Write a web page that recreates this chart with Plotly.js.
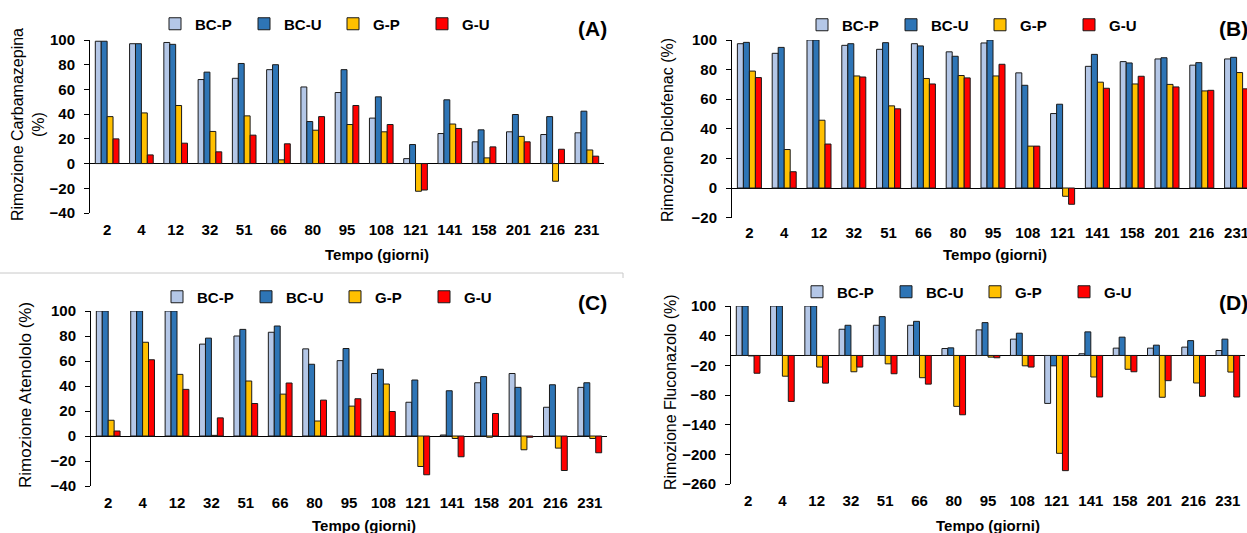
<!DOCTYPE html>
<html><head><meta charset="utf-8">
<script src="https://cdn.plot.ly/plotly-3.0.1.min.js"></script>
<style>html,body{margin:0;padding:0;overflow:hidden;background:#fff}#chart{width:1262px;height:533px}</style>
</head><body><div id="chart"></div>
<script>
// ---------- data ----------
const categories = ['2','4','12','32','51','66','80','95','108','121','141','158','201','216','231'];
const seriesNames = ['BC-P','BC-U','G-P','G-U'];
const seriesColors = ['#B4C7E7','#2E75B6','#FFC000','#FF0000'];

// (A) Carbamazepina
const carbBCP = [99, 97, 98, 68, 69, 76, 62, 57.5, 36.8, 4, 24.3, 17.6, 25.7, 23.5, 24.9];
const carbBCU = [99, 97, 96.5, 74, 81, 80, 34, 76, 54, 15.4, 51.6, 27.3, 39.7, 38, 42.4];
const carbGP  = [38, 41, 47, 26, 38.6, 3, 27, 31.6, 25.7, -22.4, 32, 4.6, 22, -14.3, 11];
const carbGU  = [20, 7, 16.5, 9.5, 23, 16, 38, 47, 31.6, -21.4, 28.4, 13.5, 17.6, 11.6, 6];

// (B) Diclofenac
const diclBCP = [97.5, 91, 100, 96.4, 93.7, 97.5, 92, 98, 77.8, 50.3, 82.2, 85.4, 87.2, 83, 87.2];
const diclBCU = [98.4, 95, 100, 97.5, 98.2, 96, 89, 100, 69.4, 56.6, 90.3, 84.5, 88, 84.7, 88.3];
const diclGP  = [79, 26, 45.8, 75.7, 55.5, 74, 76, 75.7, 28.3, -5.6, 71.5, 70.3, 70, 65.6, 78];
const diclGU  = [74.6, 11, 29.7, 75, 53.5, 70.3, 74.4, 83.6, 28.3, -11, 67.4, 75.5, 68.3, 66, 67];

// (C) Atenololo
const atenBCP = [100, 100, 100, 73.5, 80, 83, 69.7, 60.3, 50, 27, 0.8, 42.6, 50, 23, 38.9];
const atenBCU = [100, 100, 100, 78.3, 85.3, 88, 57.4, 70, 53.4, 44.8, 36.2, 47.5, 38.9, 41, 42.6];
const atenGP  = [12.6, 75, 49.3, 0.5, 44, 33.5, 12, 23.9, 41.6, -24.4, -2, -1, -11, -9.7, -2];
const atenGU  = [4, 61, 37.3, 14.5, 26, 42.4, 28.7, 29.8, 19.6, -31, -16.6, 18, -1, -27.6, -13.4];

// (D) Fluconazolo
const flucBCP = [100, 100, 100, 53, 61, 61, 14, 51.7, 33, -97, 3.4, 14.8, 14.8, 16.8, 10];
const flucBCU = [100, 100, 100, 61, 78.5, 69, 15.4, 66.4, 45, -21, 47.7, 37, 20.8, 30, 33];
const flucGP  = [-1, -42, -23.5, -33, -17, -45, -103, -3.4, -21, -198, -43.6, -28, -84.6, -55.7, -33.6];
const flucGU  = [-36, -93, -56, -23.5, -37, -58, -120, -4.7, -23.5, -233, -84, -33, -51, -82.6, -84];

const yTitles = ['Rimozione Carbamazepina<br>(%)', 'Rimozione Diclofenac (%)', 'Rimozione Atenololo (%)', 'Rimozione Fluconazolo (%)'];
const panelLabels = ['(A)', '(B)', '(C)', '(D)'];
const xTitle = 'Tempo (giorni)';

// ---------- layout helpers ----------
const W = 1262, H = 533;
const fx = p => p / W;
const fy = p => 1 - p / H;
const FONT = 'Arial, "Liberation Sans", sans-serif';

const panels = [
  {vals: [carbBCP, carbBCU, carbGP, carbGU], range: [-40, 100], tick0: -40, dtick: 20,
   xd: [90, 604], yd: [40, 213], legX: 155, legY: 24, ytx: 28, yty: 125, ytSize: 16, labX: 592, labY: 28, xtX: 377, xtY: 254, xStand: 6},
  {vals: [diclBCP, diclBCU, diclGP, diclGU], range: [-20, 100], tick0: -20, dtick: 20,
   xd: [732, 1254], yd: [40, 217.6], legX: 802, legY: 25, ytx: 667, yty: 130, ytSize: 16, labX: 1233, labY: 28, xtX: 995, xtY: 254, xStand: 4},
  {vals: [atenBCP, atenBCU, atenGP, atenGU], range: [-40, 100], tick0: -40, dtick: 20,
   xd: [91, 607], yd: [311, 486], legX: 157, legY: 297, ytx: 25, yty: 395, ytSize: 17, labX: 592, labY: 302, xtX: 364, xtY: 525, xStand: 6},
  {vals: [flucBCP, flucBCU, flucGP, flucGU], range: [-260, 100], tick0: -260, dtick: 60,
   xd: [731, 1245], yd: [306, 484], legX: 797, legY: 292, ytx: 670, yty: 392, ytSize: 16, labX: 1233, labY: 302, xtX: 988, xtY: 525, xStand: 6}
];

const data = [];
const layout = {
  width: W, height: H, autosize: false,
  margin: {l: 0, r: 0, t: 0, b: 0},
  paper_bgcolor: '#fff', plot_bgcolor: 'rgba(0,0,0,0)',
  barmode: 'group', bargap: 0.31, bargroupgap: 0,
  font: {family: FONT, color: '#000'},
  annotations: [],
  shapes: [{type: 'path', xref: 'paper', yref: 'paper',
            path: `M0,${fy(273)} L${fx(623)},${fy(273)} L${fx(623)},${fy(278)}`,
            line: {color: '#c8c8c8', width: 1}}]
};

panels.forEach((p, i) => {
  const n = i === 0 ? '' : String(i + 1);
  const legName = 'legend' + n;
  p.vals.forEach((v, s) => {
    data.push({
      type: 'bar', name: seriesNames[s], x: categories, y: v,
      xaxis: 'x' + n, yaxis: 'y' + n, legend: legName,
      marker: {color: seriesColors[s], line: {color: '#1a1a1a', width: 1}},
      hoverinfo: 'x+y+name'
    });
  });
  layout['xaxis' + n] = {
    type: 'category', domain: [fx(p.xd[0]), fx(p.xd[1])], anchor: 'y' + n,
    showline: false, showgrid: false, zeroline: false, ticks: '',
    ticklabelstandoff: p.xStand,
    tickfont: {family: FONT, size: 15, weight: 'bold', color: '#000'}
  };
  layout['yaxis' + n] = {
    domain: [fy(p.yd[1]), fy(p.yd[0])], anchor: 'x' + n,
    range: p.range, tick0: p.tick0, dtick: p.dtick, tickmode: 'linear',
    showline: true, linecolor: '#000', linewidth: 1,
    ticks: 'outside', ticklen: 5, tickcolor: '#000', tickwidth: 1,
    showgrid: false, zeroline: true, zerolinecolor: '#000', zerolinewidth: 1,
    ticklabelstandoff: 6,
    tickfont: {family: FONT, size: 15, weight: 'bold', color: '#000'}
  };
  layout[legName] = {
    orientation: 'h', x: fx(p.legX), xanchor: 'left', y: fy(p.legY), yanchor: 'middle',
    bgcolor: 'rgba(0,0,0,0)', borderwidth: 0,
    entrywidth: 44, entrywidthmode: 'pixels', itemwidth: 30, tracegroupgap: 0,
    font: {family: FONT, size: 15, weight: 'bold', color: '#000'}
  };
  layout.annotations.push({
    text: yTitles[i], xref: 'paper', yref: 'paper',
    x: fx(p.ytx), y: fy(p.yty), xanchor: 'center', yanchor: 'middle', textangle: -90,
    showarrow: false, font: {family: FONT, size: p.ytSize, color: '#000'}
  });
  layout.annotations.push({
    text: xTitle, xref: 'paper', yref: 'paper', x: fx(p.xtX), y: fy(p.xtY),
    xanchor: 'center', yanchor: 'middle', showarrow: false,
    font: {family: FONT, size: 15, weight: 'bold', color: '#000'}
  });
  layout.annotations.push({
    text: panelLabels[i], xref: 'paper', yref: 'paper', x: fx(p.labX), y: fy(p.labY),
    xanchor: 'center', yanchor: 'middle', showarrow: false,
    font: {family: FONT, size: 21, weight: 'bold', color: '#000'}
  });
});

Plotly.newPlot('chart', data, layout, {displayModeBar: false, staticPlot: true});
</script>
</body></html>
